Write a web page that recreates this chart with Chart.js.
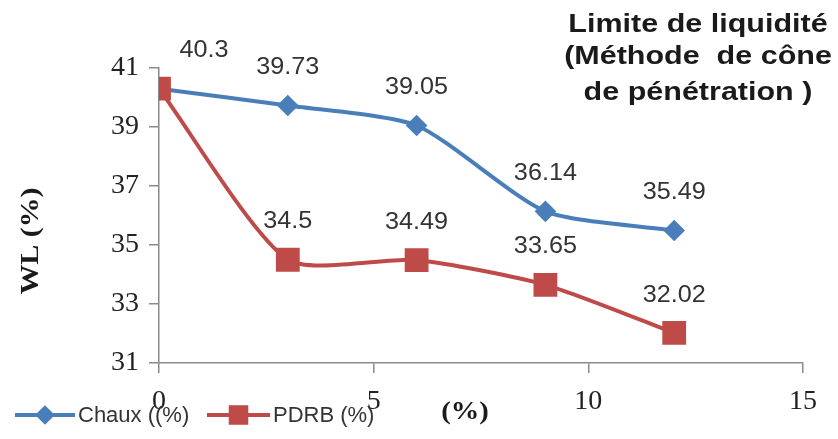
<!DOCTYPE html>
<html>
<head>
<meta charset="utf-8">
<script src="https://cdn.jsdelivr.net/npm/chart.js@4/dist/chart.umd.min.js"></script>
<style>
  html, body { margin: 0; padding: 0; background: #fff; }
  #wrap { width: 838px; height: 439px; }
</style>
</head>
<body>
<div id="wrap"><canvas id="wlChart" width="838" height="439"></canvas></div>
<script>
const additionPct = [0, 3, 6, 9, 12];
const chauxValues = [40.3, 39.73, 39.05, 36.14, 35.49];
const pdrbValues = [40.3, 34.5, 34.49, 33.65, 32.02];
const seriesNames = ['Chaux ((%)', 'PDRB (%)'];
const titleLines = ['Limite de liquidité', '(Méthode  de cône', 'de pénétration )'];
const xTitle = '(%)';
const yTitle = 'WL (%)';

const blue = '#4a7ebb';
const red = '#be4b48';

function toPoints(ys) {
  return additionPct.map((x, i) => ({ x: x, y: ys[i] }));
}

// stretched text, the picture is a bit wider than normal fonts
function drawText(ctx, text, x, y, font, sx, align) {
  ctx.save();
  ctx.font = font;
  ctx.translate(x, y);
  ctx.scale(sx, 1);
  ctx.textAlign = align || 'center';
  ctx.fillText(text, 0, 0);
  ctx.restore();
}

const extras = {
  id: 'extras',
  afterDatasetsDraw(chart) {
    const ctx = chart.ctx;
    const xs = chart.scales.x;
    const ys = chart.scales.y;

    //data labels
    ctx.fillStyle = '#333';
    ctx.textBaseline = 'middle';
    const seen = {};
    chart.data.datasets.forEach(ds => {
      ds.data.forEach((p, i) => {
        const key = p.x + '_' + p.y;
        if (seen[key]) return;
        seen[key] = true;
        let px = xs.getPixelForValue(p.x);
        const py = ys.getPixelForValue(p.y) - 38;
        if (i === 0) px += 45;
        drawText(ctx, String(p.y), px, py, '24px "Liberation Sans"', 1.05, 'center');
      });
    });
  },
  afterDraw(chart) {
    const ctx = chart.ctx;
    ctx.save();
    ctx.fillStyle = '#1a1a1a';
    ctx.textBaseline = 'alphabetic';

    //title top right
    const baselines = [32, 64, 100];
    titleLines.forEach((line, i) => {
      drawText(ctx, line, 698, baselines[i], 'bold 25px "Liberation Sans"', 1.22, 'center');
    });

    //axis titles
    drawText(ctx, xTitle, 465, 419, 'bold 26px "Liberation Serif"', 1.1, 'center');
    ctx.save();
    ctx.translate(38, 241);
    ctx.rotate(-Math.PI / 2);
    drawText(ctx, yTitle, 0, 0, 'bold 26px "Liberation Serif"', 1.15, 'center');
    ctx.restore();

    //legend with line + marker
    const ly = 415;
    const items = [
      { x0: 15, x1: 75, color: blue, style: 'rectRot', r: 7, tx: 78 },
      { x0: 207, x1: 270, color: red, style: 'rect', r: 11, tx: 273 }
    ];
    items.forEach((it, i) => {
      ctx.strokeStyle = it.color;
      ctx.lineWidth = 4;
      ctx.beginPath();
      ctx.moveTo(it.x0, ly);
      ctx.lineTo(it.x1, ly);
      ctx.stroke();
      ctx.fillStyle = it.color;
      Chart.helpers.drawPoint(ctx, { pointStyle: it.style, radius: it.r, borderWidth: 1 }, (it.x0 + it.x1) / 2, ly);
      ctx.fill();
      ctx.fillStyle = '#333';
      ctx.textBaseline = 'middle';
      drawText(ctx, seriesNames[i], it.tx, ly + 1, '22px "Liberation Sans"', 1, 'left');
    });
    ctx.restore();
  }
};

const ctx = document.getElementById('wlChart').getContext('2d');
const wlChart = new Chart(ctx, {
  type: 'scatter',
  data: {
    datasets: [
      {
        label: seriesNames[0],
        data: toPoints(chauxValues),
        showLine: true,
        borderColor: blue,
        backgroundColor: blue,
        borderWidth: 4,
        tension: 0.22,
        pointStyle: 'rectRot',
        pointRadius: 8,
        pointBorderColor: blue,
        pointBackgroundColor: blue,
        order: 2
      },
      {
        label: seriesNames[1],
        data: toPoints(pdrbValues),
        showLine: true,
        borderColor: red,
        backgroundColor: red,
        borderWidth: 4,
        tension: 0.22,
        pointStyle: 'rect',
        pointRadius: 14,
        pointBorderColor: red,
        pointBackgroundColor: red,
        order: 1
      }
    ]
  },
  options: {
    responsive: false,
    animation: false,
    layout: { padding: { top: 68, right: 35, left: 0, bottom: 0 } },
    plugins: {
      legend: { display: false },
      tooltip: { enabled: false },
      title: { display: false }
    },
    scales: {
      x: {
        type: 'linear',
        min: 0,
        max: 15,
        ticks: { stepSize: 5, color: '#222', padding: 12, font: { family: 'Liberation Serif', size: 28 } },
        grid: { drawOnChartArea: false, drawTicks: true, tickLength: 10, color: '#8a8a8a', lineWidth: 1.5 },
        border: { color: '#8a8a8a', width: 1.5 },
        afterFit(scale) { scale.height = 76; }
      },
      y: {
        min: 31,
        max: 41,
        ticks: { stepSize: 2, color: '#222', padding: 10, font: { family: 'Liberation Serif', size: 28 } },
        grid: { drawOnChartArea: false, drawTicks: true, tickLength: 10, color: '#8a8a8a', lineWidth: 1.5 },
        border: { color: '#8a8a8a', width: 1.5 },
        afterFit(scale) { scale.width = 159; }
      }
    }
  },
  plugins: [extras]
});
</script>
</body>
</html>
